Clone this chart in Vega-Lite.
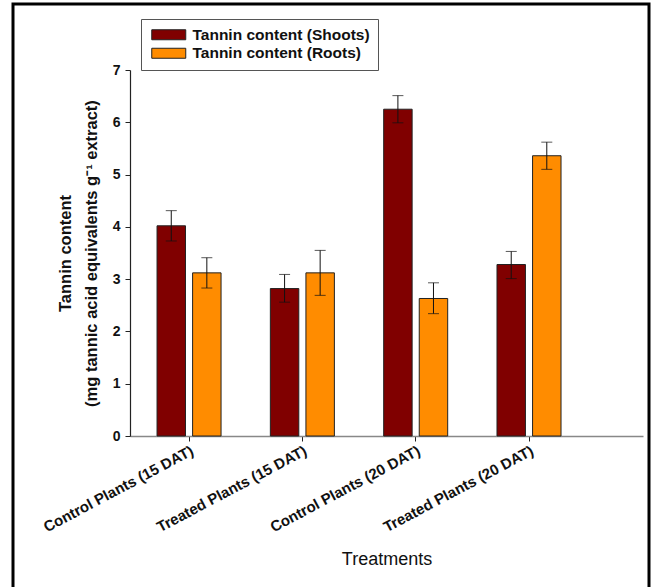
{
  "$schema": "https://vega.github.io/schema/vega-lite/v6.json",
  "width": 636,
  "height": 590,
  "autosize": "none",
  "padding": {"left": 13, "top": 4, "right": 10, "bottom": 0},
  "background": "white",
  "config": {
    "view": {"stroke": "#000", "strokeWidth": 3},
    "font": "Liberation Sans"
  },
  "data": {
    "values": [
      {"treatment": "Control Plants (15 DAT)", "series": "Tannin content (Shoots)", "mean": 4.02, "lo": 3.73, "hi": 4.31},
      {"treatment": "Control Plants (15 DAT)", "series": "Tannin content (Roots)", "mean": 3.12, "lo": 2.83, "hi": 3.41},
      {"treatment": "Treated Plants (15 DAT)", "series": "Tannin content (Shoots)", "mean": 2.82, "lo": 2.56, "hi": 3.09},
      {"treatment": "Treated Plants (15 DAT)", "series": "Tannin content (Roots)", "mean": 3.12, "lo": 2.69, "hi": 3.55},
      {"treatment": "Control Plants (20 DAT)", "series": "Tannin content (Shoots)", "mean": 6.25, "lo": 5.99, "hi": 6.51},
      {"treatment": "Control Plants (20 DAT)", "series": "Tannin content (Roots)", "mean": 2.63, "lo": 2.34, "hi": 2.93},
      {"treatment": "Treated Plants (20 DAT)", "series": "Tannin content (Shoots)", "mean": 3.28, "lo": 3.01, "hi": 3.53},
      {"treatment": "Treated Plants (20 DAT)", "series": "Tannin content (Roots)", "mean": 5.36, "lo": 5.10, "hi": 5.62}
    ]
  },
  "encoding": {
    "x": {
      "field": "treatment",
      "type": "nominal",
      "sort": ["Control Plants (15 DAT)", "Treated Plants (15 DAT)", "Control Plants (20 DAT)", "Treated Plants (20 DAT)"],
      "scale": {"range": [117, 630], "paddingInner": 0.435, "paddingOuter": 0.481, "align": 0.248, "round": false},
      "axis": {
        "orient": "bottom",
        "offset": -158,
        "title": "Treatments",
        "titleFont": "Liberation Sans",
        "titleFontSize": 18,
        "titleFontWeight": "normal",
        "titleColor": "#111",
        "titlePadding": 16,
        "labelAngle": -28,
        "labelAlign": "right",
        "labelBaseline": "top",
        "labelFontSize": 15,
        "labelFontWeight": "bold",
        "labelColor": "#111",
        "labelPadding": 2,
        "labelLimit": 300,
        "tickSize": 5,
        "tickColor": "#222",
        "domainColor": "#888",
        "domainWidth": 1.5,
        "grid": false
      }
    },
    "xOffset": {
      "field": "series",
      "type": "nominal",
      "sort": ["Tannin content (Shoots)", "Tannin content (Roots)"],
      "scale": {"paddingInner": 0.2, "paddingOuter": 0}
    }
  },
  "layer": [
    {
      "mark": {"type": "bar", "stroke": "#222", "strokeWidth": 1},
      "encoding": {
        "y": {
          "field": "mean",
          "type": "quantitative",
          "scale": {"domain": [0, 7], "range": [432, 66], "nice": false},
          "axis": {
            "orient": "left",
            "offset": -117,
            "values": [0, 1, 2, 3, 4, 5, 6, 7],
            "format": "d",
            "title": ["Tannin content", "(mg tannic acid equivalents g⁻¹ extract)"],
            "titleFontSize": 16.5,
            "titleFontWeight": "bold",
            "titleColor": "#111",
            "titleLineHeight": 26,
            "titlePadding": 13,
            "labelFontSize": 14,
            "labelFontWeight": "bold",
            "labelColor": "#111",
            "labelPadding": 5,
            "tickSize": 5,
            "tickColor": "#222",
            "domainColor": "#222",
            "domainWidth": 1.2,
            "grid": false
          }
        },
        "color": {
          "field": "series",
          "type": "nominal",
          "sort": ["Tannin content (Shoots)", "Tannin content (Roots)"],
          "scale": {"domain": ["Tannin content (Shoots)", "Tannin content (Roots)"], "range": ["#800000", "#FF8C00"]},
          "legend": {
            "title": null,
            "orient": "none",
            "legendX": 128,
            "legendY": 15,
            "direction": "vertical",
            "symbolType": "M-1,-1H5.8V1H-1Z",
            "symbolSize": 100,
            "symbolStrokeColor": "#222",
            "symbolStrokeWidth": 1,
            "symbolOpacity": 1,
            "labelOffset": 28,
            "labelFontSize": 15.5,
            "labelFontWeight": "bold",
            "labelColor": "#111",
            "labelLimit": 300,
            "rowPadding": 1.5,
            "padding": 8,
            "strokeColor": "#555",
            "fillColor": "white"
          }
        }
      }
    },
    {
      "mark": {"type": "rule", "color": "#111", "strokeWidth": 1},
      "encoding": {
        "y": {"field": "lo", "type": "quantitative", "title": ["Tannin content", "(mg tannic acid equivalents g⁻¹ extract)"]},
        "y2": {"field": "hi"}
      }
    },
    {
      "mark": {"type": "tick", "color": "#111", "size": 11, "thickness": 1},
      "encoding": {
        "y": {"field": "lo", "type": "quantitative", "title": ["Tannin content", "(mg tannic acid equivalents g⁻¹ extract)"]}
      }
    },
    {
      "mark": {"type": "tick", "color": "#111", "size": 11, "thickness": 1},
      "encoding": {
        "y": {"field": "hi", "type": "quantitative", "title": ["Tannin content", "(mg tannic acid equivalents g⁻¹ extract)"]}
      }
    }
  ]
}
